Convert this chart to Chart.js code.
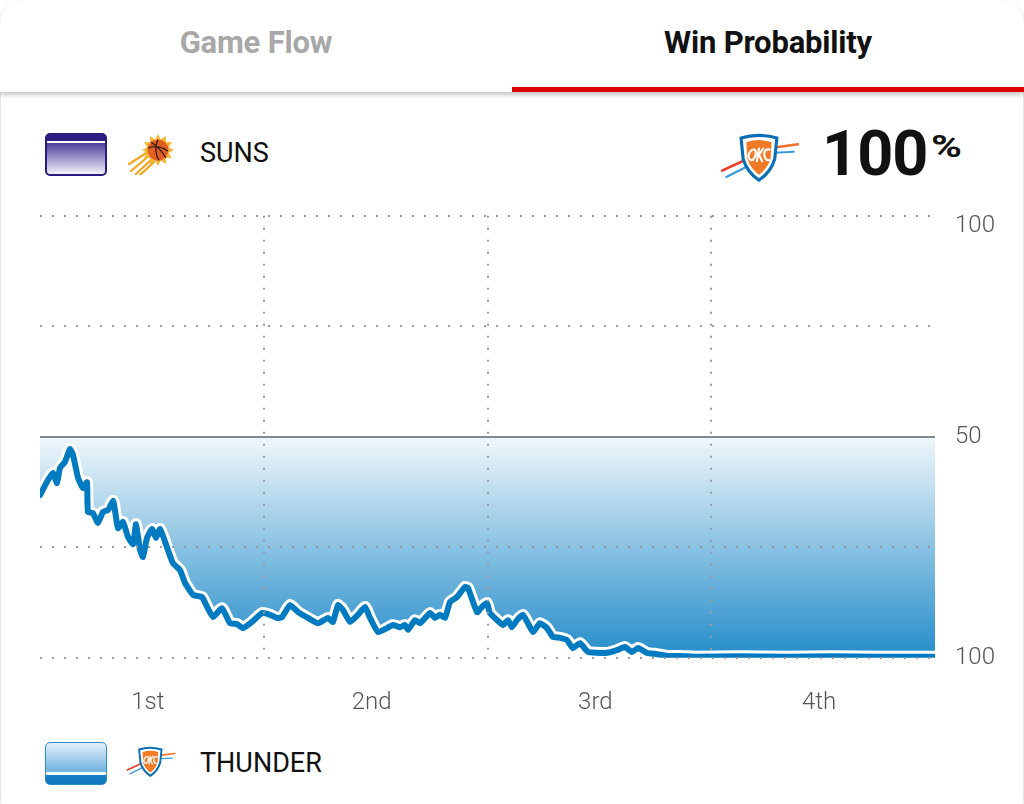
<!DOCTYPE html>
<html>
<head>
<meta charset="utf-8">
<title>Win Probability</title>
<script src="https://cdn.jsdelivr.net/npm/chart.js@4.4.1/dist/chart.umd.min.js"></script>
<style>
  html, body { margin: 0; padding: 0; background: #fff; }
  body { width: 1024px; height: 804px; position: relative; overflow: hidden; font-family: Roboto, "Open Sans", sans-serif; }
  .card { position: absolute; left: 0; top: 0; width: 1022px; height: 820px; border: 1px solid #e6e6e6; border-radius: 24px; }
  .tabs { position: absolute; left: 0; top: 0; width: 1024px; height: 92px; background: #fff; border-radius: 24px 24px 0 0; box-shadow: 0 3px 4px rgba(0,0,0,0.22); z-index: 2; }
  .tab { position: absolute; top: 0; width: 512px; height: 92px; line-height: 86px; text-align: center; font-weight: 700; font-size: 31px; letter-spacing: -0.2px; }
  .tab.off { left: 0; color: #a8a8a8; }
  .tab.on { left: 512px; color: #111; }
  .tab.on::after { content: ''; position: absolute; left: 0; right: 0; bottom: 0; height: 5px; background: #d00; }
  .swatch { position: absolute; left: 45px; width: 62px; height: 43px; box-sizing: border-box; border-radius: 5px; }
  .sw-suns { top: 133px; border: 2px solid #2b1a7d; background: linear-gradient(#2d1e86 0, #2d1e86 6px, #fff 6px, #fff 8px, #4e3f9c 8px, #f4f2f9 100%); }
  .sw-okc { top: 742px; border: 1px solid #2b8ccb; background: linear-gradient(#e2eff9 0, #6db1dd 29px, #fff 29px, #fff 32px, #1a7fc3 32px, #0a76bd 100%); }
  .team { position: absolute; left: 200px; font-size: 27px; color: #111; line-height: 30px; }
  .big { position: absolute; left: 822px; top: 118px; font-size: 63px; font-weight: 700; color: #111; line-height: 72px; letter-spacing: -1px; }
  .pct { position: absolute; left: 931px; top: 129px; font-size: 31px; font-weight: 700; color: #111; line-height: 36px; transform: scaleX(1.35); transform-origin: left center; }
  .logo { position: absolute; }
  #wpChart { position: absolute; left: 0; top: 195px; }
</style>
</head>
<body>
<div class="card"></div>
<div class="tabs">
  <div class="tab off">Game Flow</div>
  <div class="tab on">Win Probability</div>
</div>

<div class="swatch sw-suns"></div>
<svg class="logo" style="left:128px;top:131px" width="50" height="44" viewBox="0 0 50 44">
  <path d="M3 40 L22 24 M8 43 L24 28 M1 33 L20 21 M12 44 L26 31" stroke="#f7a41d" stroke-width="2.2" stroke-linecap="round"/>
  <polygon id="sunRays" fill="#f9b432"/>
  <circle cx="30" cy="19" r="10.5" fill="#e35f1f"/>
  <path d="M20 17 Q30 13 40 20 M30 8.5 Q25 19 31 29.5 M23 11 Q33 18 38 27" stroke="#2a1a10" stroke-width="1.3" fill="none"/>
</svg>
<div class="team" style="top:138px">SUNS</div>

<svg class="logo" style="left:720px;top:132px" width="80" height="52" viewBox="0 0 76 48">
  <path d="M2 36 L28 24" stroke="#ef3b24" stroke-width="2.5" stroke-linecap="round"/>
  <path d="M6 42 L30 30" stroke="#3a9ad9" stroke-width="2" stroke-linecap="round"/>
  <path d="M52 14 L74 11" stroke="#f0702a" stroke-width="2.5" stroke-linecap="round"/>
  <path d="M52 19 L70 18" stroke="#3a9ad9" stroke-width="2" stroke-linecap="round"/>
  <path d="M20 5 Q36 0 54 5 L52 25 Q48 38 37 45 Q26 38 22 25 Z" fill="#fff" stroke="#0a6eb4" stroke-width="3"/>
  <path d="M25 9 Q37 5 49 9 L48 25 Q45 34 37 40 Q29 34 26 25 Z" fill="#f07a25"/>
  <path d="M27 22 Q29 15 33 16 Q36 20 31 26 Q28 27 27 22 Z M37 15 L35 27 M37 21 L41 15 M37 21 L40 27 M47 16 Q42 15 42 21 Q43 27 47 26" stroke="#fff" stroke-width="2" fill="none" stroke-linecap="round"/>
</svg>
<div class="big">100</div>
<div class="pct">%</div>

<canvas id="wpChart" width="1024" height="540"></canvas>

<div class="swatch sw-okc"></div>
<svg class="logo" style="left:126px;top:743px" width="50" height="38" viewBox="0 0 76 48">
  <path d="M2 36 L28 24" stroke="#ef3b24" stroke-width="2.5" stroke-linecap="round"/>
  <path d="M6 42 L30 30" stroke="#3a9ad9" stroke-width="2" stroke-linecap="round"/>
  <path d="M52 14 L74 11" stroke="#f0702a" stroke-width="2.5" stroke-linecap="round"/>
  <path d="M52 19 L70 18" stroke="#3a9ad9" stroke-width="2" stroke-linecap="round"/>
  <path d="M20 5 Q36 0 54 5 L52 25 Q48 38 37 45 Q26 38 22 25 Z" fill="#fff" stroke="#0a6eb4" stroke-width="3"/>
  <path d="M25 9 Q37 5 49 9 L48 25 Q45 34 37 40 Q29 34 26 25 Z" fill="#f07a25"/>
  <path d="M27 22 Q29 15 33 16 Q36 20 31 26 Q28 27 27 22 Z M37 15 L35 27 M37 21 L41 15 M37 21 L40 27 M47 16 Q42 15 42 21 Q43 27 47 26" stroke="#fff" stroke-width="2" fill="none" stroke-linecap="round"/>
</svg>
<div class="team" style="top:748px">THUNDER</div>

<script>
// game clock in minutes (0-48) and Suns win probability (%); Thunder = 100 - value
const minutes = [
  0, 0.43, 0.70, 0.91, 1.07, 1.34, 1.61, 1.77, 2.04, 2.31,
  2.52, 2.57, 2.84, 3.11, 3.38, 3.65, 3.92, 4.02, 4.18, 4.45,
  4.72, 4.99, 5.15, 5.36, 5.52, 5.74, 6.01, 6.22, 6.44, 6.81,
  7.13, 7.51, 7.78, 8.21, 8.69, 8.96, 9.28, 9.76, 10.19, 10.57,
  10.89, 11.37, 11.91, 12.33, 12.71, 12.98, 13.41, 13.84, 14.37, 14.91,
  15.45, 15.71, 15.98, 16.25, 16.63, 17.05, 17.43, 17.70, 18.13, 18.61,
  18.93, 19.31, 19.58, 19.74, 20.11, 20.38, 20.92, 21.18, 21.45, 21.72,
  21.99, 22.36, 22.79, 22.95, 23.44, 23.70, 23.97, 24.13, 24.51, 24.83,
  25.10, 25.31, 25.58, 25.90, 26.17, 26.44, 26.81, 27.19, 27.51, 27.89,
  28.26, 28.58, 28.96, 29.39, 29.87, 30.41, 30.94, 31.37, 31.75, 32.07,
  32.55, 33.09, 33.63, 34.32, 35.24, 37.5, 40.0, 42.5, 45.0, 48.0
];
const sunsWinPct = [
  36.8, 40.2, 41.8, 39.5, 42.9, 44.3, 47.2, 45.9, 40.7, 38.4,
  39.7, 33.0, 32.7, 30.5, 33.0, 33.4, 35.5, 33.4, 29.3, 30.7,
  27.3, 25.7, 30.2, 24.4, 22.8, 27.1, 29.1, 27.1, 29.1, 25.0,
  21.4, 19.8, 16.9, 14.2, 13.7, 11.5, 9.2, 11.2, 7.8, 7.6,
  6.7, 8.1, 10.1, 9.7, 9.0, 9.2, 11.9, 10.3, 9.0, 7.8,
  9.0, 8.1, 11.9, 10.8, 8.1, 9.7, 11.5, 9.0, 5.8, 6.7,
  7.4, 6.9, 7.4, 6.3, 8.5, 7.8, 10.1, 9.0, 9.7, 9.0,
  12.6, 13.7, 16.0, 15.8, 10.3, 11.5, 12.4, 10.1, 8.5, 7.4,
  8.5, 6.9, 8.5, 9.7, 7.8, 5.8, 7.8, 6.7, 4.7, 4.5,
  4.0, 2.2, 3.3, 1.3, 1.1, 1.1, 1.7, 2.4, 1.3, 2.2,
  1.1, 0.8, 0.4, 0.4, 0.2, 0.3, 0.2, 0.3, 0.2, 0.2
];
const quarterLabels = ['1st', '2nd', '3rd', '4th'];
const quarterMids = [6, 18, 30, 42];
const yTickValues = [100, 50, 0];
const yTickLabels = ['100', '50', '100'];

// little sun rays behind the Suns ball
(function () {
  const pts = [];
  for (let i = 0; i < 24; i++) {
    const r = i % 2 ? 11 : 16;
    const a = i * Math.PI / 12;
    pts.push((30 + r * Math.cos(a)).toFixed(1) + ',' + (19 + r * Math.sin(a)).toFixed(1));
  }
  document.getElementById('sunRays').setAttribute('points', pts.join(' '));
})();

const points = minutes.map((m, i) => ({ x: m, y: sunsWinPct[i] }));
const gridColor = '#9b9b9b';

// 50% line + axis labels
const labelPlugin = {
  id: 'wpLabels',
  afterDraw(chart) {
    const { ctx, chartArea, scales: { x, y } } = chart;
    ctx.save();
    const y50 = Math.round(y.getPixelForValue(50));
    ctx.strokeStyle = '#888';
    ctx.lineWidth = 2;
    ctx.beginPath();
    ctx.moveTo(chartArea.left, y50);
    ctx.lineTo(chartArea.right, y50);
    ctx.stroke();

    ctx.font = '300 24px Roboto';
    ctx.fillStyle = '#555';
    ctx.textBaseline = 'middle';
    ctx.textAlign = 'left';
    yTickValues.forEach((v, i) => {
      let py = y.getPixelForValue(v);
      if (v === 100) py += 10; // top label sits a bit inside
      ctx.fillText(yTickLabels[i], chartArea.right + 20, py);
    });
    ctx.textAlign = 'center';
    quarterLabels.forEach((q, i) => {
      ctx.fillText(q, x.getPixelForValue(quarterMids[i]) - 4, chartArea.bottom + 45);
    });
    ctx.restore();
  }
};

const ctx = document.getElementById('wpChart').getContext('2d');
const wpChart = new Chart(ctx, {
  type: 'line',
  data: {
    datasets: [{
      label: 'Win Probability',
      data: points,
      borderColor: '#007ac1',
      borderWidth: 6,
      borderJoinStyle: 'round',
      borderCapStyle: 'round',
      pointRadius: 0,
      tension: 0.15,
      fill: false
    }, {
      label: 'outline',
      data: points,
      borderColor: '#ffffff',
      borderWidth: 12,
      borderJoinStyle: 'round',
      borderCapStyle: 'round',
      pointRadius: 0,
      tension: 0.15,
      fill: { value: 50 },
      backgroundColor: (c) => {
        const area = c.chart.chartArea;
        if (!area) return 'rgba(0,122,193,0.4)';
        const yS = c.chart.scales.y;
        const g = c.chart.ctx.createLinearGradient(0, yS.getPixelForValue(50), 0, yS.getPixelForValue(0));
        g.addColorStop(0, 'rgba(0,122,193,0.06)');
        g.addColorStop(1, 'rgba(0,122,193,0.86)');
        return g;
      }
    }]
  },
  options: {
    responsive: false,
    animation: false,
    events: [],
    layout: {
      padding: { left: 40, right: 89, top: 20.7, bottom: 77.3 }
    },
    scales: {
      x: {
        type: 'linear',
        min: 0,
        max: 48,
        ticks: { display: false, stepSize: 12 },
        grid: {
          z: 1,
          lineWidth: 2,
          drawTicks: false,
          color: (c) => (c.tick && (c.tick.value === 0 || c.tick.value === 48)) ? 'rgba(0,0,0,0)' : gridColor
        },
        border: { display: false, dash: [2, 10] }
      },
      y: {
        min: 0,
        max: 100,
        ticks: { display: false, stepSize: 25 },
        grid: { z: 1, lineWidth: 2, drawTicks: false, color: gridColor },
        border: { display: false, dash: [2, 10] }
      }
    },
    plugins: {
      legend: { display: false },
      tooltip: { enabled: false }
    }
  },
  plugins: [labelPlugin]
});
</script>
</body>
</html>
